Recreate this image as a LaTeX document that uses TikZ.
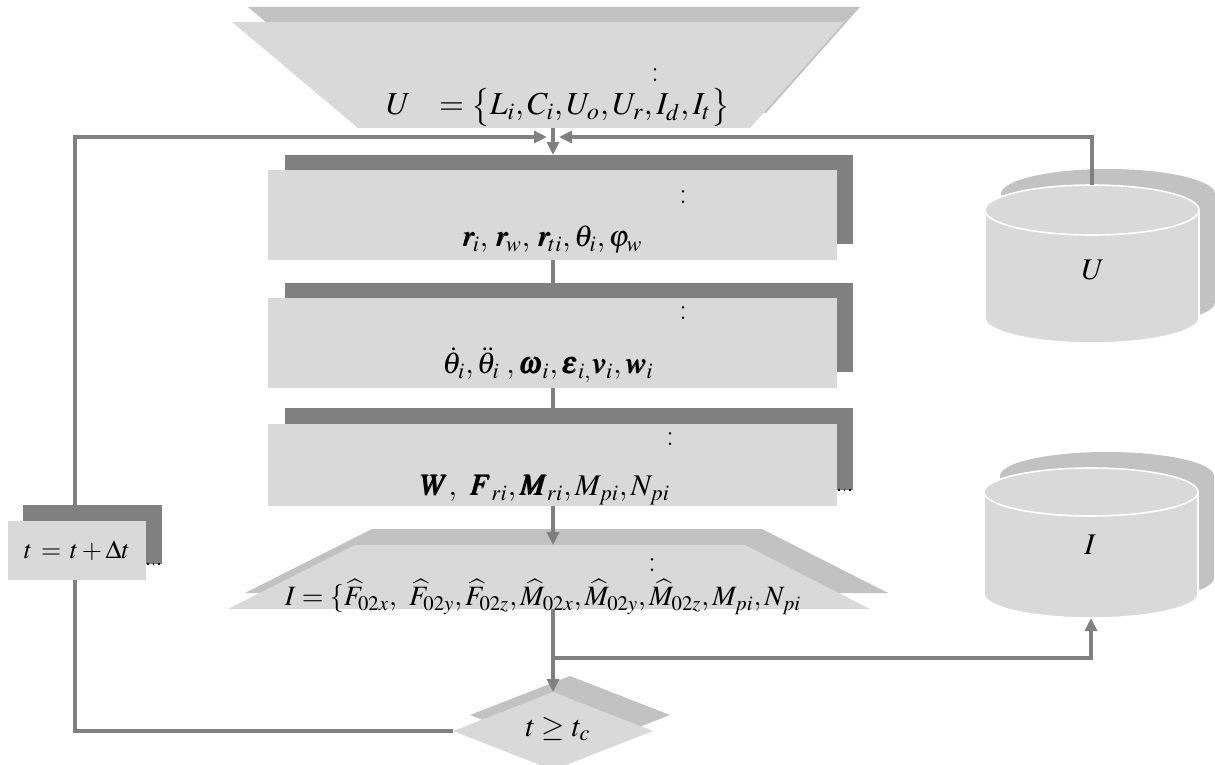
\documentclass[tikz,border=0pt]{standalone}
\usepackage{mathptmx}
\usepackage{bm}
\usetikzlibrary{arrows.meta}
\definecolor{lgray}{HTML}{D9D9D9}
\definecolor{dgray}{HTML}{808080}
\definecolor{hgray}{HTML}{C2C2C2}
\tikzset{
  lightfill/.style={fill=lgray},
  darkfill/.style={fill=dgray},
  shadowfill/.style={fill=hgray},
  conn/.style={draw=dgray, line width=2.2pt},
  arr/.style={conn, -{Triangle[length=6.5pt,width=6pt]}},
  lbl/.style={inner sep=0pt, font=\fontsize{15}{18}\selectfont},
  dots/.style={draw=black, dotted, line width=0.8pt}
}
\begin{document}
\begin{tikzpicture}[x=0.5pt,y=-0.5pt]
\useasboundingbox (0,0) rectangle (1215,765);

% ---------- top trapezoid (input U) ----------
\fill[shadowfill] (248,7) -- (860,7) -- (766,113) -- (374,113) -- cycle;
\fill[lightfill] (232,22) -- (844,22) -- (750,128) -- (358,128) -- cycle;
\coordinate (inB) at (553,128);
\node[lbl] (inC) at (655,75) {:};
\node[lbl, font=\fontsize{16}{18}\selectfont] (inT) at (558,107) {$U\;\;\;=\bigl\{L_i,C_i,U_o,U_r,I_d,I_t\bigr\}$};

% ---------- box 1 ----------
\fill[darkfill] (285,155) rectangle (853,244);
\fill[lightfill] (268,170) rectangle (837,260);
\coordinate (b1T) at (553,155);
\coordinate (b1B) at (553,260);
\node[lbl] (b1C) at (683,197) {:};
\node[lbl] (b1F) at (552,240) {$\bm{r}_{\!i},\,\bm{r}_{\!w},\,\bm{r}_{\!ti},\theta_i,\varphi_w$};

% ---------- box 2 ----------
\fill[darkfill] (285,283) rectangle (853,372);
\fill[lightfill] (268,298) rectangle (837,388);
\coordinate (b2T) at (553,283);
\coordinate (b2B) at (553,388);
\node[lbl] (b2C) at (683,313) {:};
\node[lbl] (b2F) at (548,365) {$\dot{\theta}_i,\ddot{\theta}_i\;,\bm{\omega}_i,\bm{\varepsilon}_{i,}\bm{v}_i,\bm{w}_i$};

% ---------- box 3 ----------
\fill[darkfill] (285,408) rectangle (853,490);
\fill[lightfill] (268,424) rectangle (837,506);
\draw[dots] (838,490) -- (853,490);
\coordinate (b3T) at (553,408);
\coordinate (b3B) at (553,506);
\coordinate (b3S) at (838,490);
\node[lbl] (b3C) at (670,439) {:};
\node[lbl] (b3F) at (545,490) {$\bm{W},\ \bm{F}_{ri},\bm{M}_{ri},M_{pi},N_{pi}$};

% ---------- bottom trapezoid (output I) ----------
\fill[shadowfill] (372,529) -- (762,529) -- (888,593) -- (245,593) -- cycle;
\fill[lightfill] (355,545) -- (745,545) -- (870,609) -- (228,609) -- cycle;
\coordinate (outT) at (553,545);
\coordinate (outB) at (553,609);
\node[lbl] (outC) at (652,565) {:};
\node[lbl, font=\fontsize{14}{16}\selectfont] (outF) at (543,597) {$I=\{\widehat{F}_{02x},\ \widehat{F}_{02y},\widehat{F}_{02z},\widehat{M}_{02x},\widehat{M}_{02y},\widehat{M}_{02z},M_{pi},N_{pi}$};

% ---------- decision diamond ----------
\fill[shadowfill] (570,676) -- (670,715) -- (570,754) -- (470,715) -- cycle;
\fill[lightfill] (553,692) -- (653,731) -- (553,770) -- (453,731) -- cycle;
\coordinate (dT) at (553,692);
\coordinate (dL) at (453,731);
\node[lbl] (dF) at (558,729) {$t\ge t_c$};

% ---------- t = t + dt box ----------
\fill[darkfill] (23,505) rectangle (162,564);
\fill[lightfill] (8,521) rectangle (146,580);
\draw[dots] (147,564) -- (162,564);
\coordinate (tT) at (75,505);
\coordinate (tB) at (75,580);
\node[inner sep=0pt, font=\fontsize{13}{15}\selectfont] (tF) at (77,551) {$t\,=\,t+\Delta t$};

% ---------- cylinder U ----------
\fill[shadowfill] (1001,194) -- (1001,302) arc[start angle=180,end angle=0,x radius=107,y radius=25]
  -- (1215,194) arc[start angle=0,end angle=-180,x radius=107,y radius=25] -- cycle;
\filldraw[lightfill, draw=white, line width=0.8pt] (985,210) -- (985,318) arc[start angle=180,end angle=0,x radius=107,y radius=25]
  -- (1199,210) arc[start angle=0,end angle=-180,x radius=107,y radius=25] -- cycle;
\draw[white, line width=0.8pt] (985,210) arc[start angle=180,end angle=0,x radius=107,y radius=25];
\coordinate (uT) at (1092,185);
\node[lbl] (uF) at (1093,270) {$U$};

% ---------- cylinder I ----------
\fill[shadowfill] (1000,476) -- (1000,578) arc[start angle=180,end angle=0,x radius=107,y radius=24]
  -- (1214,476) arc[start angle=0,end angle=-180,x radius=107,y radius=24] -- cycle;
\filldraw[lightfill, draw=white, line width=0.8pt] (984,492) -- (984,594) arc[start angle=180,end angle=0,x radius=107,y radius=24]
  -- (1198,492) arc[start angle=0,end angle=-180,x radius=107,y radius=24] -- cycle;
\draw[white, line width=0.8pt] (984,492) arc[start angle=180,end angle=0,x radius=107,y radius=24];
\coordinate (iB) at (1091,618);
\node[lbl] (iF) at (1090,545) {$I$};

% ---------- connectors ----------
\coordinate (jL) at (547,137);
\coordinate (jR) at (559,137);
\draw[arr] (inB) -- (b1T);
\draw[conn] (b1B) -- (b2T);
\draw[conn] (b2B) -- (b3T);
\draw[arr] (b3B) -- (outT);
\draw[arr] (outB) -- (dT);
\draw[arr] (outB |- 0,658) -| (iB);
\draw[conn] (dL) -| (tB);
\draw[arr] (tT) |- (jL);
\draw[arr] (uT) |- (jR);
\end{tikzpicture}
\end{document}
